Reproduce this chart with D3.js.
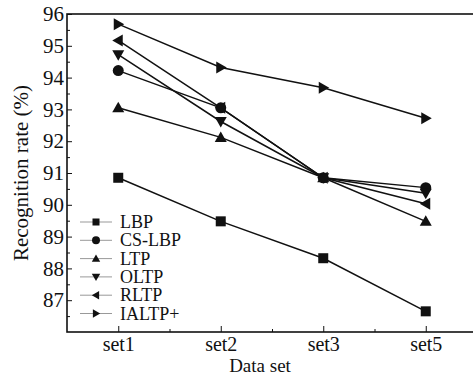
<!DOCTYPE html>
<html>
<head>
<meta charset="utf-8">
<script src="https://cdn.jsdelivr.net/npm/d3@7"></script>
<style>
  body { margin: 0; background: #fff; }
  svg text { font-family: "Liberation Serif", "DejaVu Serif", serif; fill: #111; }
</style>
</head>
<body>
<svg width="473" height="376"></svg>
<script>
const sets = ['set1', 'set2', 'set3', 'set5'];
const lbp   = [90.85, 89.48, 88.32, 86.65];
const cslbp = [94.22, 93.05, 90.85, 90.54];
const ltp   = [93.05, 92.12, 90.85, 89.48];
const oltp  = [94.72, 92.62, 90.85, 90.36];
const rltp  = [95.17, 93.05, 90.85, 90.03];
const ialtp = [95.68, 94.32, 93.68, 92.72];
const names = ['LBP', 'CS-LBP', 'LTP', 'OLTP', 'RLTP', 'IALTP+'];
const yTicks = [87, 88, 89, 90, 91, 92, 93, 94, 95, 96];

const series = [
  {name: names[0], values: lbp,   shape: 'square'},
  {name: names[1], values: cslbp, shape: 'circle'},
  {name: names[2], values: ltp,   shape: 'up'},
  {name: names[3], values: oltp,  shape: 'down'},
  {name: names[4], values: rltp,  shape: 'left'},
  {name: names[5], values: ialtp, shape: 'right'}
];

const svg = d3.select('svg');
const mLeft = 67, mTop = 14, mRight = 477, mBottom = 332;

const x = d3.scaleLinear().domain([0.5, 4.5]).range([mLeft, mRight]);
const y = d3.scaleLinear().domain([86, 96]).range([mBottom, mTop]);

// frame
svg.append('rect')
  .attr('x', mLeft).attr('y', mTop)
  .attr('width', mRight - mLeft).attr('height', mBottom - mTop)
  .attr('fill', 'none').attr('stroke', '#111').attr('stroke-width', 1.6);

// y axis
const yAxis = d3.axisLeft(y).tickValues(yTicks).tickSize(-5).tickPadding(3).tickFormat(d3.format('d'));
const gY = svg.append('g').attr('transform', 'translate(' + mLeft + ',0)').call(yAxis);
gY.select('.domain').remove();
gY.selectAll('text').style('font-size', '21px').attr('x', -3);
gY.selectAll('line').attr('stroke', '#111');
svg.append('g').attr('transform', 'translate(' + mLeft + ',0)')
  .call(d3.axisLeft(y).tickValues(d3.range(86.5, 96, 1)).tickSize(-3).tickFormat(''))
  .call(g => g.select('.domain').remove())
  .selectAll('line').attr('stroke', '#111');

// x axis
const xAxis = d3.axisBottom(x).tickValues([1, 2, 3, 4]).tickSize(-6).tickPadding(4.5)
  .tickFormat((d, i) => sets[i]);
const gX = svg.append('g').attr('transform', 'translate(0,' + mBottom + ')').call(xAxis);
gX.select('.domain').remove();
gX.selectAll('text').style('font-size', '20px');
gX.selectAll('line').attr('stroke', '#111');
svg.append('g').attr('transform', 'translate(0,' + mBottom + ')')
  .call(d3.axisBottom(x).tickValues([1.5, 2.5, 3.5]).tickSize(-3).tickFormat(''))
  .call(g => g.select('.domain').remove())
  .selectAll('line').attr('stroke', '#111');

// axis titles
svg.append('text')
  .attr('transform', 'translate(28,173) rotate(-90)')
  .attr('text-anchor', 'middle').style('font-size', '21px')
  .text('Recognition rate (%)');
svg.append('text')
  .attr('x', 260).attr('y', 371.5)
  .attr('text-anchor', 'middle').style('font-size', '19px')
  .text('Data set');

function marker(g, shape, s) {
  if (shape === 'square') {
    g.append('rect').attr('x', -s / 2).attr('y', -s / 2).attr('width', s).attr('height', s);
  } else if (shape === 'circle') {
    g.append('circle').attr('r', s / 2 + 0.5);
  } else {
    const h = s * 0.6;
    const pts = {
      up:    [[0, -h], [h, h * 0.75], [-h, h * 0.75]],
      down:  [[0, h], [h, -h * 0.75], [-h, -h * 0.75]],
      left:  [[-h, 0], [h * 0.75, -h], [h * 0.75, h]],
      right: [[h, 0], [-h * 0.75, -h], [-h * 0.75, h]]
    }[shape];
    g.append('path').attr('d', 'M' + pts.join('L') + 'Z');
  }
}

const line = d3.line().x((d, i) => x(i + 1)).y(d => y(d));

series.forEach(s => {
  svg.append('path')
    .datum(s.values)
    .attr('d', line)
    .attr('fill', 'none').attr('stroke', '#111').attr('stroke-width', 1.5);
  s.values.forEach((v, i) => {
    const g = svg.append('g')
      .attr('transform', 'translate(' + x(i + 1) + ',' + y(v) + ')')
      .attr('fill', '#111');
    marker(g, s.shape, 10);
  });
});

// legend
const legend = svg.append('g');
series.forEach((s, i) => {
  const ly = 222 + i * 18.3;
  legend.append('line')
    .attr('x1', 80).attr('x2', 112).attr('y1', ly).attr('y2', ly)
    .attr('stroke', '#999').attr('stroke-width', 1);
  const g = legend.append('g').attr('transform', 'translate(96,' + ly + ')').attr('fill', '#111');
  marker(g, s.shape, 7);
  legend.append('text')
    .attr('x', 120).attr('y', ly + 6)
    .style('font-size', '18px')
    .text(s.name);
});
</script>
</body>
</html>
